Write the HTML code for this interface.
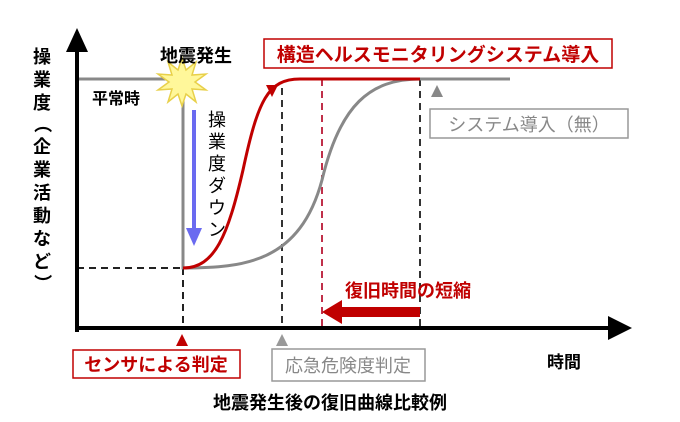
<!DOCTYPE html>
<html><head><meta charset="utf-8"><style>
body{margin:0;background:#fff;}
svg{display:block;font-family:"Liberation Sans","Noto Sans CJK JP",sans-serif;}
</style></head><body>
<svg width="680" height="422" viewBox="0 0 680 422">
<rect width="680" height="422" fill="#fff"/>
<g stroke-width="2" stroke-dasharray="7,5" fill="none">
<line x1="77" y1="268" x2="183" y2="268" stroke="#222"/>
<line x1="183" y1="268" x2="183" y2="328" stroke="#222"/>
<line x1="282" y1="88" x2="282" y2="328" stroke="#333"/>
<line x1="322" y1="79" x2="322" y2="328" stroke="#c0304a"/>
<line x1="420" y1="79" x2="420" y2="328" stroke="#333"/>
</g>
<path d="M77 79 H183 V268 C245 268 300 262 322 180 C340 105 370 79 420 79 H510" stroke="#888" stroke-width="3" fill="none"/>
<path d="M183 268 C215 268 228 235 243 170 C258 100 268 79 300 79 H420" stroke="#c00000" stroke-width="3" fill="none"/>
<line x1="77" y1="332" x2="77" y2="48" stroke="#000" stroke-width="4"/>
<polygon points="77,28 66,52 88,52" fill="#000"/>
<line x1="75" y1="328" x2="610" y2="328" stroke="#000" stroke-width="4"/>
<polygon points="632,328 608,316 608,340" fill="#000"/>
<line x1="194" y1="110" x2="194" y2="230" stroke="#6a6af0" stroke-width="4"/>
<polygon points="194,246 186,228 202,228" fill="#6a6af0"/>
<polygon points="182,58 186,70 196,62 192,75 206,74 195,82 206,90 192,89 196,102 186,94 182,106 178,94 168,102 172,89 158,90 169,82 158,74 172,75 168,62 178,70" fill="#fff79a" stroke="#e8d04a" stroke-width="1.5"/>
<polygon points="266,85 278,85 272,97" fill="#c00000"/>
<polygon points="437,85 431,97 443,97" fill="#888"/>
<polygon points="182,334 176,346 188,346" fill="#c00000"/>
<polygon points="282,334 276,346 288,346" fill="#999"/>
<rect x="340" y="307" width="80" height="10" fill="#c00000"/>
<polygon points="322,312 342,300 342,324" fill="#c00000"/>
<rect x="264" y="39" width="348" height="29" fill="#fff" stroke="#c00000" stroke-width="1.5"/>
<text x="438" y="61" font-size="19" fill="#c00000" text-anchor="middle" font-weight="bold">構造ヘルスモニタリングシステム導入</text>
<rect x="430" y="109" width="198" height="29" fill="#fff" stroke="#999" stroke-width="1.5"/>
<text x="529" y="131" font-size="18" fill="#888" text-anchor="middle">システム導入（無）</text>
<rect x="73" y="350" width="167" height="28" fill="#fff" stroke="#c00000" stroke-width="1.5"/>
<text x="156" y="371" font-size="18" fill="#c00000" text-anchor="middle" font-weight="bold">センサによる判定</text>
<rect x="272" y="349" width="153" height="32" fill="#fff" stroke="#999" stroke-width="1.5"/>
<text x="348" y="372" font-size="18" fill="#888" text-anchor="middle">応急危険度判定</text>
<text x="160" y="62" font-size="18" font-weight="bold">地震発生</text>
<text x="92" y="104" font-size="16" font-weight="bold">平常時</text>
<text x="345" y="297" font-size="18" fill="#c00000" font-weight="bold">復旧時間の短縮</text>
<text x="547" y="368" font-size="17" font-weight="bold">時間</text>
<text x="330" y="409" font-size="18" text-anchor="middle" font-weight="bold">地震発生後の復旧曲線比較例</text>
<g font-size="18" text-anchor="middle">
<text x="217" y="126">操</text><text x="217" y="148">業</text><text x="217" y="170">度</text><text x="217" y="192">ダ</text><text x="217" y="214">ウ</text><text x="217" y="236">ン</text>
</g>
<g font-size="18" text-anchor="middle" font-weight="bold">
<text x="42" y="63">操</text><text x="42" y="86">業</text><text x="42" y="109">度</text>
<text x="42" y="130" transform="rotate(90 42 124)">（</text>
<text x="42" y="153">企</text><text x="42" y="176">業</text><text x="42" y="199">活</text><text x="42" y="222">動</text><text x="42" y="245">な</text><text x="42" y="268">ど</text>
<text x="42" y="289" transform="rotate(90 42 283)">）</text>
</g>
</svg>
</body></html>
